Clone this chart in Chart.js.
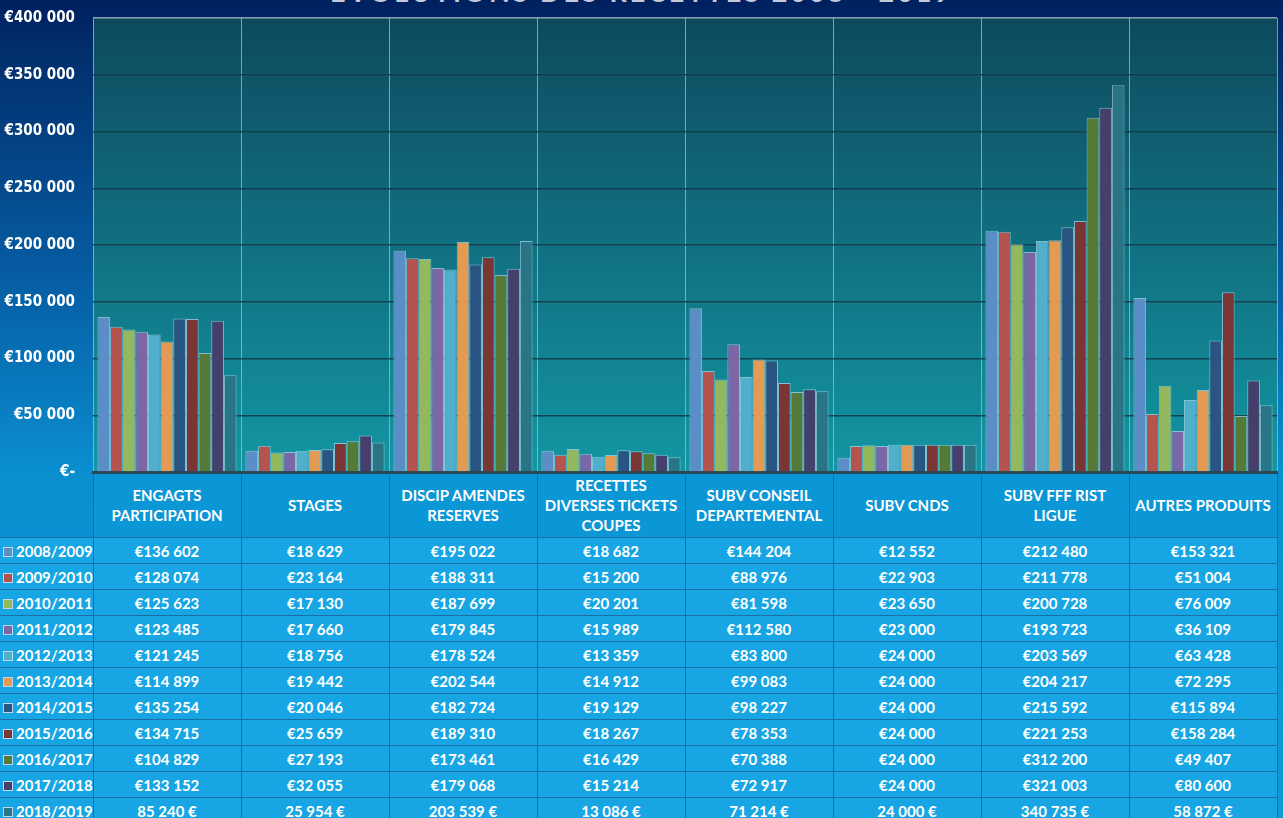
<!DOCTYPE html>
<html>
<head>
<meta charset="utf-8">
<script src="https://cdn.jsdelivr.net/npm/chart.js@4"></script>
<style>
  html, body { margin: 0; padding: 0; }
  body {
    width: 1283px; height: 818px; overflow: hidden; position: relative;
    background: linear-gradient(to bottom, #00205f 0px, #02306f 60px, #0762a8 300px, #0a8ed0 470px, #0c9ad8 818px);
    font-family: Lato, 'Open Sans', sans-serif;
  }
  #title {
    position: absolute; top: -25px; left: 0; width: 1283px; text-align: center;
    color: #c4cbd8; font: bold 27px Lato, sans-serif; letter-spacing: 3px; z-index: 0;
  }
  #wrap { position: absolute; top: -9px; left: 0; width: 1283px; height: 508px; z-index: 2; }
  #table {
    position: absolute; top: 472px; left: 0; border-collapse: collapse; z-index: 1;
    table-layout: fixed; color: #fff; font-weight: bold; font-size: 15px;
  }
  #table td { border: 1px solid #1a70a4; text-align: center; padding: 0; overflow: hidden; white-space: nowrap; }
  #table tr.head td { height: 64px; background: #0b96d6; line-height: 20px; white-space: normal; }
  #table tr.row td { height: 25px; background: #17a6e3; }
  #table td.lab { text-align: left; border-left: none; padding-left: 3px; }
  #table tr.head td.lab { border-top: none; background: transparent; }
  .key { display: inline-block; width: 8px; height: 8px; border: 1px solid #bcd8ea; margin-right: 3px; vertical-align: 0px; }
</style>
</head>
<body>
<div id="title">EVOLUTIONS DES RECETTES 2008 - 2019</div>
<div id="wrap"><canvas id="chart"></canvas></div>
<table id="table"></table>
<script>
const categories = [
  ['ENGAGTS', 'PARTICIPATION'],
  ['STAGES'],
  ['DISCIP AMENDES', 'RESERVES'],
  ['RECETTES', 'DIVERSES TICKETS', 'COUPES'],
  ['SUBV CONSEIL', 'DEPARTEMENTAL'],
  ['SUBV CNDS'],
  ['SUBV FFF RIST', 'LIGUE'],
  ['AUTRES PRODUITS']
]

const seasons = ['2008/2009', '2009/2010', '2010/2011', '2011/2012', '2012/2013', '2013/2014',
  '2014/2015', '2015/2016', '2016/2017', '2017/2018', '2018/2019']

const s2008 = [136602, 18629, 195022, 18682, 144204, 12552, 212480, 153321]
const s2009 = [128074, 23164, 188311, 15200, 88976, 22903, 211778, 51004]
const s2010 = [125623, 17130, 187699, 20201, 81598, 23650, 200728, 76009]
const s2011 = [123485, 17660, 179845, 15989, 112580, 23000, 193723, 36109]
const s2012 = [121245, 18756, 178524, 13359, 83800, 24000, 203569, 63428]
const s2013 = [114899, 19442, 202544, 14912, 99083, 24000, 204217, 72295]
const s2014 = [135254, 20046, 182724, 19129, 98227, 24000, 215592, 115894]
const s2015 = [134715, 25659, 189310, 18267, 78353, 24000, 221253, 158284]
const s2016 = [104829, 27193, 173461, 16429, 70388, 24000, 312200, 49407]
const s2017 = [133152, 32055, 179068, 15214, 72917, 24000, 321003, 80600]
const s2018 = [85240, 25954, 203539, 13086, 71214, 24000, 340735, 58872]

const seriesValues = [s2008, s2009, s2010, s2011, s2012, s2013, s2014, s2015, s2016, s2017, s2018]
const colors = ['#5b8dc6', '#b5534f', '#93b85e', '#7b66a6', '#4fafcc', '#e29a55',
  '#2a5482', '#7a3535', '#557a38', '#463f6c', '#2a7585']

const yMin = 0, yMax = 400000, yStep = 50000

const group = n => String(n).replace(/\B(?=(\d{3})+(?!\d))/g, '\u202f')
const euro = (n, suffix) => suffix ? group(n) + '\u00a0€' : '€' + group(n)

const plotBg = {
  id: 'plotBg',
  beforeDraw(chart) {
    const { ctx, chartArea: a } = chart
    const g = ctx.createLinearGradient(0, a.top, 0, a.bottom)
    g.addColorStop(0, '#0e4a5e')
    g.addColorStop(1, '#1396a3')
    ctx.save()
    ctx.fillStyle = g
    ctx.fillRect(a.left, a.top, a.right - a.left, a.bottom - a.top)
    ctx.restore()
  }
}

const data = {
  labels: categories,
  datasets: seasons.map((s, i) => ({
    label: s,
    data: seriesValues[i],
    backgroundColor: colors[i],
    borderColor: 'rgba(190,225,240,0.65)',
    borderWidth: 1,
    barPercentage: 1,
    categoryPercentage: 0.94
  }))
}

const config = {
  type: 'bar',
  data: data,
  options: {
    responsive: true,
    maintainAspectRatio: false,
    animation: false,
    layout: { padding: { top: 9, right: 6, bottom: 0, left: 0 } },
    scales: {
      x: {
        afterFit: s => { s.height = 0 },
        ticks: { display: false },
        grid: { offset: true, drawTicks: false, color: 'rgba(170,190,195,0.75)', lineWidth: 1 },
        border: { color: '#2b4754', width: 3 }
      },
      y: {
        min: yMin, max: yMax,
        afterFit: s => { s.width = 93 },
        ticks: {
          stepSize: yStep,
          color: '#ffffff',
          padding: 18,
          font: { family: "'DejaVu Sans Condensed', 'Liberation Sans Narrow', sans-serif", size: 15, weight: 'bold' },
          callback: v => v === 0 ? '€-' : '€' + String(v).replace(/\B(?=(\d{3})+(?!\d))/g, ' ')
        },
        grid: {
          drawTicks: false,
          color: c => c.tick && c.tick.value === yMax ? 'rgba(170,190,200,0.8)' : 'rgba(20,60,75,0.9)',
          lineWidth: 1.5
        },
        border: { display: false }
      }
    },
    plugins: {
      legend: { display: false },
      title: { display: false },
      tooltip: { enabled: false }
    }
  },
  plugins: [plotBg]
}

let chart = new Chart(document.getElementById('chart').getContext('2d'), config)

// data table under the plot, columns taken from the chart area
const buildTable = () => {
  const a = chart.chartArea
  const wrapTop = document.getElementById('wrap').offsetTop
  const step = (a.right - a.left) / categories.length
  const table = document.getElementById('table')
  let html = '<colgroup><col style="width:' + a.left + 'px">'
  categories.forEach(() => { html += '<col style="width:' + step + 'px">' })
  html += '</colgroup><tr class="head"><td class="lab"></td>'
  categories.forEach(c => { html += '<td>' + c.join('<br>') + '</td>' })
  html += '</tr>'
  seasons.forEach((s, i) => {
    html += '<tr class="row"><td class="lab"><span class="key" style="background:' + colors[i] + '"></span>' + s + '</td>'
    seriesValues[i].forEach(v => { html += '<td>' + euro(v, i === seasons.length - 1) + '</td>' })
    html += '</tr>'
  })
  table.innerHTML = html
  table.style.width = (a.left + step * categories.length) + 'px'
  table.style.top = Math.round(a.bottom + wrapTop) + 'px'
}
buildTable()
</script>
</body>
</html>
